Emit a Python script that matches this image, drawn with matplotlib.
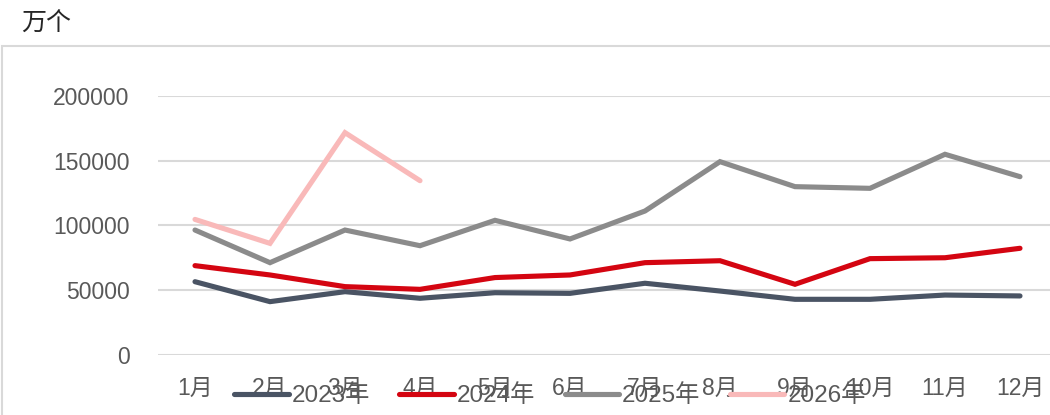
import matplotlib
matplotlib.use('Agg')
import matplotlib.pyplot as plt
from matplotlib.patches import Rectangle

plt.rcParams['font.family'] = ['Liberation Sans', 'Noto Sans CJK SC', 'DejaVu Sans']

months = ['1月', '2月', '3月', '4月', '5月', '6月', '7月', '8月', '9月', '10月', '11月', '12月']
y2023 = [56600, 41200, 48900, 43800, 48100, 47600, 55400, 49400, 43000, 43000, 46300, 45600]
y2024 = [69000, 61800, 52800, 50700, 59800, 61800, 71300, 72800, 54600, 74400, 75100, 82400]
y2025 = [96500, 71300, 96500, 84400, 104000, 89600, 111200, 149300, 130000, 128700, 155000, 137700]
y2026 = [104700, 86200, 171700, 134600]

series = [('2023年', y2023, '#4a5464'),
          ('2024年', y2024, '#d40511'),
          ('2025年', y2025, '#8b8b8b'),
          ('2026年', y2026, '#f9b9b9')]

fig = plt.figure(figsize=(10.5, 4.15), dpi=100)
ax = fig.add_axes([157.5 / 1050, 1 - 355 / 415, 900 / 1050, 259 / 415])

# outer chart border
fig.patches.append(Rectangle((1.5 / 1050, -0.05), 1.2, 1 - 46.5 / 415 + 0.05,
                             transform=fig.transFigure, fill=False,
                             edgecolor='#d9d9d9', linewidth=1.5))

for name, vals, col in series:
    ax.plot(range(len(vals)), vals, color=col, lw=3.7, label=name,
            solid_capstyle='round', solid_joinstyle='miter', clip_on=False)

ax.set_xlim(-0.5, 11.5)
ax.set_ylim(0, 200000)
ax.set_yticks([0, 50000, 100000, 150000, 200000])
ax.set_xticks(range(12))
ax.set_xticklabels(months)
ax.grid(axis='y', color='#d9d9d9', lw=1.5)
ax.set_axisbelow(True)
for s in ax.spines.values():
    s.set_visible(False)
ax.tick_params(length=0, labelsize=16.5, labelcolor='#595959')
ax.tick_params(axis='y', pad=20)
ax.tick_params(axis='x', pad=16)

fig.text(21 / 1050, 1 - 23 / 415, '万个', fontsize=18, color='#262626',
         va='center', ha='left', family=['Noto Sans CJK SC', 'DejaVu Sans'])

leg = fig.legend(loc='center', bbox_to_anchor=(550 / 1050, 1 - 396 / 415), ncol=4,
                 frameon=False, fontsize=17.5, handlelength=2.25, handletextpad=0.12,
                 columnspacing=1.2, labelcolor='#595959')

fig.savefig('out.png', dpi=100)
